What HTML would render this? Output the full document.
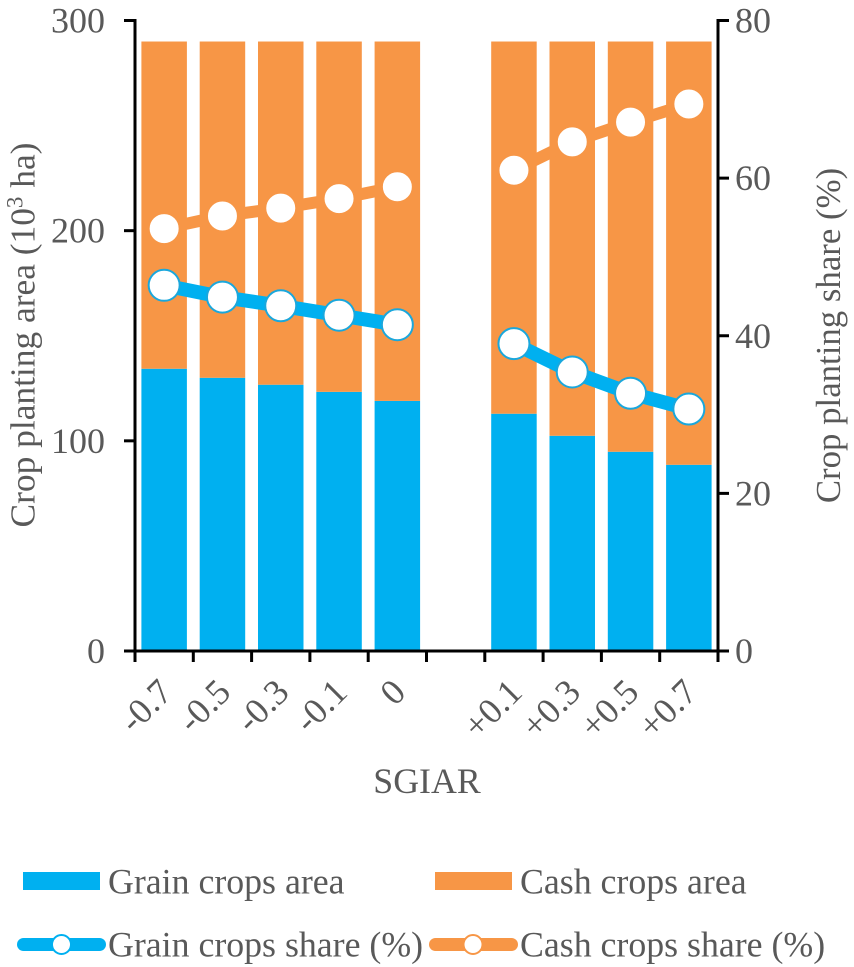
<!DOCTYPE html>
<html lang="en">
<head>
<meta charset="utf-8">
<title>Crop planting area and share by SGIAR</title>
<style>
html,body{margin:0;padding:0;background:#fff;}
svg{display:block;font-family:"Liberation Serif",serif;}
text{fill:#595959;}
</style>
</head>
<body>
<svg id="chart" width="854" height="967" viewBox="0 0 854 967" xmlns="http://www.w3.org/2000/svg">
  <g id="bars"></g>
  <g id="lines"></g>
  <g id="axes"></g>
  <text transform="translate(34.5,335) rotate(-90)" text-anchor="middle" font-size="35.4">Crop planting area (10<tspan font-size="23" dy="-12">3</tspan><tspan dy="12"> ha)</tspan></text>
  <text transform="translate(840,335.5) rotate(-90)" text-anchor="middle" font-size="34.8">Crop planting share (%)</text>
  <text x="427" y="793" text-anchor="middle" font-size="35.8">SGIAR</text>
  <g>
    <rect x="23" y="872" width="77" height="18" fill="#00B0F0"/>
    <text x="108" y="893.5" font-size="35.8">Grain crops area</text>
    <rect x="435" y="872" width="77" height="18" fill="#F79646"/>
    <text x="520" y="893.5" font-size="35.8">Cash crops area</text>
    <line x1="23.5" y1="944.5" x2="99.5" y2="944.5" stroke="#00B0F0" stroke-width="13" stroke-linecap="round"/>
    <circle cx="61.5" cy="944.5" r="9.5" fill="#fff" stroke="#00B0F0" stroke-width="2"/>
    <text x="108" y="956.5" font-size="35.8">Grain crops share (%)</text>
    <line x1="435.5" y1="944.5" x2="511.5" y2="944.5" stroke="#F79646" stroke-width="13" stroke-linecap="round"/>
    <circle cx="473" cy="944.5" r="9.5" fill="#fff" stroke="#F79646" stroke-width="2"/>
    <text x="520" y="956.5" font-size="35.8">Cash crops share (%)</text>
  </g>
</svg>
<script>
const categories = ['-0.7','-0.5','-0.3','-0.1','0','','+0.1','+0.3','+0.5','+0.7'];
const grainArea = [134.3,130,126.7,123.3,119,null,112.9,102.4,94.8,88.6];
const cashArea = [155.7,160,163.3,166.7,171,null,177.1,187.6,195.2,201.4];
const grainShare = [46.4,44.9,43.8,42.6,41.4,null,39,35.4,32.7,30.7];
const cashShare = [53.6,55.2,56.2,57.4,58.9,null,61,64.6,67.1,69.4];
const leftTicks = [0,100,200,300];
const rightTicks = [0,20,40,60,80];

const NS = 'http://www.w3.org/2000/svg';
const plotLeft = 135, plotRight = 718, plotTop = 20.5, plotBottom = 651;
const bandWidth = (plotRight - plotLeft) / categories.length;
const barWidth = 45.5;
const xBand = i => plotLeft + bandWidth * i;
const xCenter = i => xBand(i) + bandWidth / 2;
const yLeft = v => plotBottom - (v / 300) * (plotBottom - plotTop);
const yRight = v => plotBottom - (v / 80) * (plotBottom - plotTop);

function make(tag, attrs, parent) {
  const el = document.createElementNS(NS, tag);
  for (const k in attrs) el.setAttribute(k, attrs[k]);
  parent.appendChild(el);
  return el;
}

const barsG = document.getElementById('bars');
const linesG = document.getElementById('lines');
const axesG = document.getElementById('axes');

categories.forEach((c, i) => {
  if (grainArea[i] === null) return;
  const x = xCenter(i) - barWidth / 2;
  const grain = make('rect', {x: x, y: yLeft(grainArea[i]), width: barWidth, height: plotBottom - yLeft(grainArea[i]), fill: '#00B0F0'}, barsG);
  
  
  const top = grainArea[i] + cashArea[i];
  const cash = make('rect', {x: x, y: yLeft(top), width: barWidth, height: yLeft(grainArea[i]) - yLeft(top), fill: '#F79646'}, barsG);
  
  
});

function drawSeries(values, color, markerStroke, lineWidth, radius, name) {
  let run = [];
  const flush = () => {
    if (run.length > 1) {
      const line = make('polyline', {points: run.join(' '), fill: 'none', stroke: color, 'stroke-width': lineWidth}, linesG);
      
      
    }
    run = [];
  };
  values.forEach((v, i) => {
    if (v === null) { flush(); return; }
    run.push(xCenter(i) + ',' + yRight(v));
  });
  flush();
  values.forEach((v, i) => {
    if (v === null) return;
    const dot = make('circle', {cx: xCenter(i), cy: yRight(v), r: radius, fill: '#fff', stroke: markerStroke, 'stroke-width': 2}, linesG);
    
    
  });
}
drawSeries(cashShare, '#F79646', '#fff', 12, 13.5, 'cash-share');
drawSeries(grainShare, '#00B0F0', '#1AA7DC', 14, 15.5, 'grain-share');

function axisLine(x1, y1, x2, y2, name) {
  const l = make('line', {x1: x1, y1: y1, x2: x2, y2: y2, stroke: '#000', 'stroke-width': 3}, axesG);
  
  
}
axisLine(plotLeft, plotTop - 1.5, plotLeft, plotBottom + 1.5, 'left-y-axis-line');
axisLine(plotRight, plotTop - 1.5, plotRight, plotBottom + 1.5, 'right-y-axis-line');
axisLine(plotLeft - 11, plotBottom, plotRight + 11, plotBottom, 'x-axis-line');

leftTicks.forEach(v => {
  axisLine(plotLeft - 11, yLeft(v), plotLeft, yLeft(v), 'left-y-tick');
  const t = make('text', {x: 105, y: yLeft(v) + 12, 'text-anchor': 'end', 'font-size': 36}, axesG);
  
  
  t.textContent = v;
});
rightTicks.forEach(v => {
  axisLine(plotRight, yRight(v), plotRight + 11, yRight(v), 'right-y-tick');
  const t = make('text', {x: 735, y: yRight(v) + 12, 'text-anchor': 'start', 'font-size': 36}, axesG);
  
  
  t.textContent = v;
});
for (let i = 0; i <= categories.length; i++) {
  axisLine(xBand(i), plotBottom, xBand(i), plotBottom + 11, 'x-tick');
}
categories.forEach((c, i) => {
  if (!c) return;
  const cx = xCenter(i) - 8, cy = 676;
  const t = make('text', {x: cx, y: cy, 'text-anchor': 'end', 'font-size': 36, transform: 'rotate(-45 ' + cx + ' ' + cy + ')'}, axesG);
  
  
  t.textContent = c;
  t.setAttribute('dominant-baseline', 'hanging');
});
</script>
</body>
</html>
